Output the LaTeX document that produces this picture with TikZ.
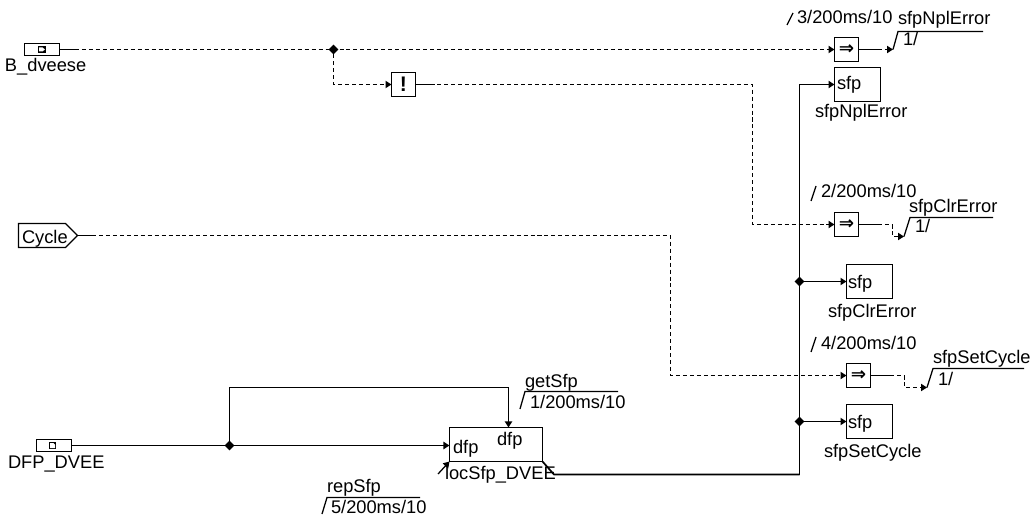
\documentclass[tikz,border=0pt]{standalone}
\usepackage{fontspec}
\setmainfont{Liberation Sans}
\newfontfamily\symfont{DejaVu Sans}
\usetikzlibrary{arrows.meta, positioning, shapes.geometric, shapes.symbols, calc}

\begin{document}
\begin{tikzpicture}[
  x=0.025cm, y=-0.025cm,
  font=\fontsize{13}{15}\selectfont,
  lab/.style={anchor=base west, inner sep=0pt, outer sep=0pt},
  port/.style={draw=black, line width=0.9pt, inner sep=0pt, outer sep=0pt, minimum width=0.875cm, minimum height=0.3cm},
  icon/.style={fill=black, inner sep=0pt, outer sep=0pt, minimum size=0.19cm},
  opbox/.style={draw=black, line width=0.95pt, inner sep=0pt, outer sep=0pt, minimum size=0.6cm},
  sfpbox/.style={draw=black, line width=0.95pt, inner sep=0pt, outer sep=0pt, minimum width=1.15cm, minimum height=0.85cm},
  junc/.style={diamond, fill=black, inner sep=0pt, outer sep=0pt, minimum size=0.24cm},
  wire/.style={line width=0.9pt, draw=black},
  bus/.style={line width=1.2pt, draw=black},
  sigdash/.style={line width=0.95pt, draw=black, dash pattern=on 2.85pt off 2.1pt},
  fleche/.style={-{Stealth[length=1.5mm, width=1.8mm, inset=0pt]}}
]
  \useasboundingbox (0,0) rectangle (1030,518);

  % Inputs
  \node[port] (dveese) at (42,49.5) {};
  \node[icon] (dveeseIcon) at (42,49.5) {};
  \fill[white] (39,47.5) -- (42.5,47.5) -- (45,49.5) -- (42.5,51.5) -- (39,51.5) -- cycle;
  \node[lab] (dveeseLab) at (5,72) {B\_dveese};
  \node[draw=black, line width=0.9pt, inner sep=0pt, outer sep=0pt, minimum width=1.475cm, minimum height=0.6cm,
        shape=signal, signal to=east, signal pointer angle=90, anchor=west] (cycleIn) at (18.5,235.5) {};
  \node[lab] (cycleLab) at (22,243) {Cycle};
  \node[port] (dfp) at (54,445.5) {};
  \node[icon] (dfpIcon) at (52.5,445.5) {};
  \fill[white] (50,443) -- (53.5,443) -- (55,444.5) -- (55,448) -- (50,448) -- cycle;
  \node[lab] (dfpLab) at (8,468) {DFP\_DVEE};

  % Operators
  \node[opbox] (nicht) at (403.5,84.5) {\fontsize{15}{15}\selectfont\bfseries !};
  \node[opbox] (setNpl) at (846.5,49.5) {\symfont\bfseries ⇒};
  \node[opbox] (setClr) at (846.5,224.5) {\symfont\bfseries ⇒};
  \node[opbox] (setCyc) at (858.5,375.5) {\symfont\bfseries ⇒};

  % Processes
  \node[sfpbox] (sfpNpl) at (857.5,84.5) {};
  \node[sfpbox] (sfpClr) at (869.5,281.5) {};
  \node[sfpbox] (sfpSet) at (869.5,421.5) {};
  \node[lab] (sfpNplIn) at (837,90) {sfp};
  \node[lab] (sfpClrIn) at (848,288) {sfp};
  \node[lab] (sfpSetIn) at (848,428) {sfp};
  \node[lab] (sfpNplLab) at (815,118) {sfpNplError};
  \node[lab] (sfpClrLab) at (828,317) {sfpClrError};
  \node[lab] (sfpSetLab) at (824,457) {sfpSetCycle};

  \node[draw=black, line width=0.95pt, inner sep=0pt, outer sep=0pt, minimum width=2.325cm, minimum height=0.85cm] (locSfp) at (496,444.5) {};
  \node[lab] (locIn) at (453,453) {dfp};
  \node[lab] (locGet) at (497,445) {dfp};
  \node[lab] (locLab) at (445,479) {locSfp\_DVEE};

  % Junctions
  \node[junc] (jB) at (333.5,49.5) {};
  \node[junc] (jD) at (229.5,445.5) {};
  \node[junc] (jClr) at (799.5,281.5) {};
  \node[junc] (jSet) at (799.5,421.5) {};

  % Helper points
  \coordinate (dveeseSolid) at (75,49.5);
  \coordinate (cycleSolid) at (92,235.5);
  \coordinate (nichtDown) at (752.5,224.5);
  \coordinate (cycleDown) at (670.5,375.5);
  \coordinate (getCorner) at (508.5,387.5);
  \coordinate (busLow) at (554,474.5);
  \coordinate (busCorner) at (799.5,474.5);
  \coordinate (locFree) at (438,474);

  % Dashed signals
  \draw[wire] (dveese.east) -- (dveeseSolid);
  \draw[sigdash, fleche] (dveeseSolid) -- (setNpl.west);
  \draw[sigdash, fleche] (jB) |- (nicht.west);
  \draw[wire] (nicht.east) -- ++(15,0) coordinate (nichtSolid);
  \draw[sigdash, fleche] (nichtSolid) -| (nichtDown) -- (setClr.west);
  \draw[wire] (cycleIn.east) -- (cycleSolid);
  \draw[sigdash, fleche] (cycleSolid) -| (cycleDown) -- (setCyc.west);

  % Solid signals
  \draw[bus, fleche] (dfp.east) -- (locSfp.west |- dfp.east);
  \draw[wire, fleche] (jD) |- (getCorner) -- (getCorner |- locSfp.north);
  \draw[bus] (locSfp.south east) -- (busLow) -- (busCorner);
  \draw[bus, fleche] (busCorner) |- (sfpNpl.west);
  \draw[wire, fleche] (jClr) -- (sfpClr.west);
  \draw[wire, fleche] (jSet) -- (sfpSet.west);
  \draw[wire, fleche] (locFree) -- (locSfp.south west);

  % Outputs
  \coordinate (nplOutA) at (878,49.5);
  \coordinate (nplOutB) at (893,49.5);
  \coordinate (nplTop) at (898,31.5);
  \coordinate (nplEnd) at (983,31.5);
  \draw[wire] (setNpl.east) -- (nplOutA);
  \draw[sigdash, fleche] (nplOutA) -- (nplOutB);
  \draw[wire] (nplOutB) -- (nplTop) -- (nplEnd);

  \coordinate (clrOutA) at (878,224.5);
  \coordinate (clrOutB) at (892.5,224.5);
  \coordinate (clrOutC) at (904,236.5);
  \coordinate (clrTop) at (910,217.5);
  \coordinate (clrEnd) at (993,217.5);
  \draw[wire] (setClr.east) -- (clrOutA);
  \draw[sigdash] (clrOutA) -- (clrOutB);
  \draw[sigdash, fleche] (clrOutB) |- (clrOutC);
  \draw[wire] (clrOutC) -- (clrTop) -- (clrEnd);

  \coordinate (cycOutA) at (890,375.5);
  \coordinate (cycOutB) at (904.5,375.5);
  \coordinate (cycOutC) at (927,387.5);
  \coordinate (cycTop) at (933,368.5);
  \coordinate (cycEnd) at (1024,368.5);
  \draw[wire] (setCyc.east) -- (cycOutA);
  \draw[sigdash] (cycOutA) -- (cycOutB);
  \draw[sigdash, fleche] (cycOutB) |- (cycOutC);
  \draw[wire] (cycOutC) -- (cycTop) -- (cycEnd);

  % Timing labels
  \node[lab] (msNpl) at (797,24) {3/200ms/10};
  \node[lab] (msClr) at (821,197) {2/200ms/10};
  \node[lab] (msCyc) at (821,349) {4/200ms/10};
  \node[lab] (nplName) at (898,25) {sfpNplError};
  \node[lab] (clrName) at (909,212) {sfpClrError};
  \node[lab] (cycName) at (933,363) {sfpSetCycle};
  \node[lab] (nplOne) at (903,46) {1/};
  \node[lab] (clrOne) at (915,232) {1/};
  \node[lab] (cycOne) at (938,385) {1/};
  \coordinate (msNplA) at (787,25);
  \coordinate (msNplB) at (793,13);
  \coordinate (msClrA) at (811,201);
  \coordinate (msClrB) at (816,186);
  \coordinate (msCycA) at (811,352);
  \coordinate (msCycB) at (816,337);
  \draw[wire] (msNplA) -- (msNplB);
  \draw[wire] (msClrA) -- (msClrB);
  \draw[wire] (msCycA) -- (msCycB);

  \node[lab] (getLab) at (525,387) {getSfp};
  \node[lab] (getMs) at (530,408) {1/200ms/10};
  \coordinate (getA) at (520,409);
  \coordinate (getB) at (525,391.5);
  \coordinate (getC) at (618,391.5);
  \draw[wire] (getA) -- (getB) -- (getC);
  \node[lab] (repLab) at (327,492) {repSfp};
  \node[lab] (repMs) at (331,513) {5/200ms/10};
  \coordinate (repA) at (322,514);
  \coordinate (repB) at (327,497.5);
  \coordinate (repC) at (420,497.5);
  \draw[wire] (repA) -- (repB) -- (repC);
\end{tikzpicture}
\end{document}
